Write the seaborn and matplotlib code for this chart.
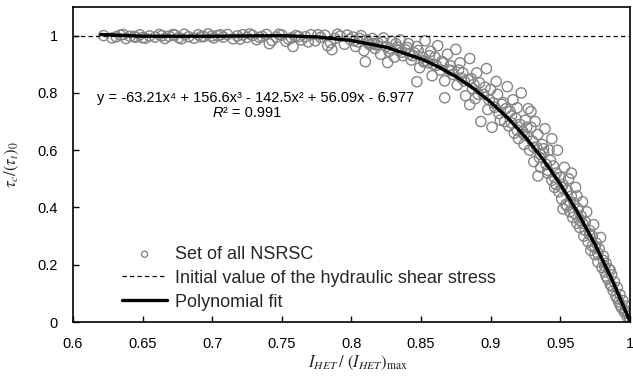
import matplotlib
matplotlib.use("Agg")
import matplotlib.pyplot as plt
import seaborn as sns
import pandas as pd
import numpy as np
from matplotlib.ticker import FuncFormatter

# ---- scatter: set of all NSRSC ----
x_flat = [0.622, 0.628, 0.631, 0.634, 0.638, 0.641, 0.645, 0.648, 0.652, 0.655,
          0.659, 0.662, 0.666, 0.669, 0.673, 0.676, 0.680, 0.683, 0.687, 0.690,
          0.694, 0.697, 0.701, 0.704, 0.708, 0.711, 0.715, 0.718, 0.722, 0.725,
          0.729, 0.732, 0.736, 0.739, 0.743, 0.746, 0.750, 0.753, 0.757, 0.760,
          0.764, 0.767, 0.771, 0.774, 0.778, 0.781, 0.785, 0.788, 0.792, 0.795,
          0.799, 0.636, 0.650, 0.664, 0.678, 0.692, 0.706, 0.720, 0.734, 0.748,
          0.762, 0.776, 0.790, 0.644, 0.672, 0.700, 0.727, 0.755, 0.783, 0.741,
          0.758, 0.769, 0.786, 0.797]
y_flat = [1.000, 0.992, 0.996, 1.002, 0.990, 0.998, 0.994, 1.003, 0.991, 0.999,
          0.995, 1.004, 0.990, 0.998, 1.002, 0.993, 1.005, 0.996, 0.991, 1.003,
          0.997, 1.006, 0.992, 1.000, 0.995, 1.004, 0.989, 0.999, 1.003, 0.994,
          1.001, 0.986, 0.997, 1.004, 0.983, 0.995, 1.002, 0.980, 0.992, 1.000,
          0.985, 0.996, 1.003, 0.982, 0.994, 1.001, 0.975, 0.990, 0.998, 0.970,
          0.987, 1.004, 0.993, 1.000, 0.989, 0.996, 1.003, 0.988, 0.994, 1.005,
          0.997, 1.003, 1.005, 0.997, 1.004, 0.999, 1.006, 0.988, 0.965, 0.972,
          0.962, 0.978, 0.951, 1.002]

x_mid = [0.801, 0.803, 0.805, 0.807, 0.809, 0.811, 0.813, 0.815, 0.817, 0.819,
         0.821, 0.823, 0.825, 0.827, 0.829, 0.831, 0.833, 0.835, 0.837, 0.839,
         0.841, 0.843, 0.845, 0.847, 0.849, 0.851, 0.853, 0.855, 0.857, 0.858,
         0.860, 0.862, 0.864, 0.865, 0.867, 0.869, 0.871, 0.873, 0.875, 0.876,
         0.878, 0.880, 0.882, 0.884, 0.885, 0.887, 0.889, 0.890, 0.892, 0.893,
         0.895, 0.897, 0.898, 0.900, 0.901, 0.902, 0.904, 0.847, 0.867, 0.826,
         0.810, 0.885, 0.816, 0.834, 0.852, 0.870, 0.888, 0.842, 0.859, 0.879,
         0.802, 0.806, 0.812, 0.818, 0.822, 0.828, 0.832, 0.836, 0.840, 0.844,
         0.848, 0.852, 0.856, 0.861, 0.866, 0.872, 0.877, 0.881, 0.886, 0.891,
         0.896, 0.899]
y_mid = [0.995, 0.962, 0.978, 1.000, 0.948, 0.985, 0.968, 0.990, 0.955, 0.975,
         0.935, 0.992, 0.962, 0.945, 0.980, 0.925, 0.960, 0.985, 0.930, 0.950,
         0.972, 0.915, 0.940, 0.962, 0.888, 0.925, 0.982, 0.905, 0.945, 0.860,
         0.925, 0.965, 0.880, 0.910, 0.842, 0.935, 0.895, 0.865, 0.952, 0.828,
         0.905, 0.870, 0.790, 0.845, 0.920, 0.815, 0.780, 0.870, 0.835, 0.700,
         0.795, 0.885, 0.742, 0.812, 0.680, 0.765, 0.840, 0.839, 0.783, 0.906,
         0.909, 0.759, 0.972, 0.948, 0.912, 0.880, 0.830, 0.935, 0.900, 0.852,
         0.982, 0.990, 0.975, 0.968, 0.978, 0.955, 0.972, 0.942, 0.958, 0.930,
         0.948, 0.908, 0.930, 0.896, 0.905, 0.878, 0.880, 0.842, 0.850, 0.795,
         0.820, 0.775]

x_steep = [0.905, 0.906, 0.908, 0.909, 0.910, 0.911, 0.912, 0.913, 0.914, 0.916,
           0.917, 0.918, 0.919, 0.920, 0.921, 0.922, 0.923, 0.924, 0.925, 0.926,
           0.927, 0.928, 0.929, 0.930, 0.931, 0.932, 0.933, 0.934, 0.935, 0.936,
           0.937, 0.938, 0.939, 0.940, 0.941, 0.942, 0.943, 0.944, 0.945, 0.946,
           0.947, 0.948, 0.949, 0.950, 0.951, 0.952, 0.953, 0.954, 0.955, 0.956,
           0.957, 0.958, 0.959, 0.960, 0.961, 0.962, 0.963, 0.964, 0.965, 0.966,
           0.967, 0.968, 0.969, 0.970, 0.971, 0.972, 0.973, 0.974, 0.975, 0.976,
           0.977, 0.978, 0.979, 0.980, 0.981, 0.982, 0.983, 0.984, 0.985, 0.986,
           0.987, 0.988, 0.989, 0.990, 0.991, 0.992, 0.993, 0.994, 0.995, 0.996,
           0.997, 0.998, 0.999, 1.000, 1.000, 0.958, 0.944, 0.929, 0.934, 0.952,
           0.915, 0.926, 0.938, 0.947, 0.957, 0.966, 0.975, 0.983, 0.991, 0.981,
           0.986, 0.971, 0.962, 0.903, 0.907, 0.915, 0.919, 0.924, 0.931, 0.936,
           0.941, 0.946, 0.951, 0.955, 0.960, 0.964, 0.968, 0.973, 0.977, 0.982,
           0.987, 0.993, 0.997]
y_steep = [0.795, 0.728, 0.760, 0.766, 0.700, 0.745, 0.822, 0.685, 0.735, 0.776,
           0.660, 0.712, 0.748, 0.640, 0.690, 0.800, 0.665, 0.620, 0.705, 0.650,
           0.745, 0.600, 0.680, 0.632, 0.560, 0.700, 0.610, 0.655, 0.575, 0.540,
           0.620, 0.590, 0.675, 0.550, 0.520, 0.600, 0.565, 0.495, 0.545, 0.470,
           0.520, 0.600, 0.455, 0.505, 0.430, 0.480, 0.540, 0.410, 0.460, 0.500,
           0.385, 0.440, 0.365, 0.415, 0.470, 0.345, 0.395, 0.330, 0.370, 0.420,
           0.300, 0.350, 0.385, 0.280, 0.320, 0.250, 0.300, 0.340, 0.235, 0.275,
           0.210, 0.255, 0.295, 0.190, 0.230, 0.175, 0.205, 0.150, 0.185, 0.130,
           0.165, 0.110, 0.140, 0.090, 0.120, 0.070, 0.095, 0.050, 0.075, 0.035,
           0.055, 0.020, 0.030, 0.005, 0.012, 0.520, 0.640, 0.735, 0.510, 0.395,
           0.720, 0.680, 0.605, 0.480, 0.420, 0.345, 0.262, 0.160, 0.082, 0.215,
           0.180, 0.305, 0.440, 0.750, 0.705, 0.695, 0.670, 0.655, 0.610, 0.585,
           0.530, 0.505, 0.470, 0.405, 0.380, 0.355, 0.320, 0.265, 0.240, 0.195,
           0.125, 0.060, 0.040]

# ---- polynomial fit, points ----
fit_x = [0.62, 0.65, 0.70, 0.75, 0.775, 0.80, 0.825, 0.85, 0.8625, 0.875,
         0.8875, 0.90, 0.9125, 0.925, 0.9375, 0.95, 0.9625, 0.975, 0.9875, 1.0]
fit_y = [1.004, 0.998, 0.998, 1.000, 0.9955, 0.983, 0.9595, 0.919, 0.891, 0.857,
         0.8166, 0.768, 0.7115, 0.646, 0.569, 0.482, 0.383, 0.271, 0.1445, 0.003]

initial_value = 1.0

xticks = [0.6, 0.65, 0.7, 0.75, 0.8, 0.85, 0.9, 0.95, 1.0]
yticks = [0, 0.2, 0.4, 0.6, 0.8, 1.0]

pts = pd.DataFrame({"x": x_flat + x_mid + x_steep,
                    "y": y_flat + y_mid + y_steep})
fit = pd.DataFrame({"x": fit_x, "y": fit_y})

sns.set_theme(style="white")
plt.rcParams["font.family"] = ["Liberation Sans", "DejaVu Sans"]
plt.rcParams["mathtext.fontset"] = "stix"

fig = plt.figure(figsize=(6.33, 3.85), dpi=100)
ax = fig.add_axes([0.1153, 0.1636, 0.8797, 0.8182])

sns.scatterplot(data=pts, x="x", y="y", ax=ax, marker="o", s=54,
                facecolors="none", edgecolor="#858585", linewidth=1.0,
                label="Set of all NSRSC", zorder=2)
ax.axhline(initial_value, color="black", linestyle=(0, (3.5, 2.5)), linewidth=0.9,
           label="Initial value of the hydraulic shear stress", zorder=3)
sns.lineplot(data=fit, x="x", y="y", ax=ax, color="black", linewidth=2.4,
             estimator=None, label="Polynomial fit", zorder=4)

ax.set_xlim(0.6, 1.0)
ax.set_ylim(0, 1.1)
ax.set_xticks(xticks)
ax.set_yticks(yticks)
fmt = FuncFormatter(lambda v, p: "%g" % round(v, 3))
ax.xaxis.set_major_formatter(fmt)
ax.yaxis.set_major_formatter(fmt)
ax.tick_params(axis="x", direction="in", length=4, width=1, labelsize=10.5,
               pad=11, colors="black", bottom=True)
ax.tick_params(axis="y", direction="in", length=4, width=1, labelsize=10.5,
               pad=11, colors="black", left=True)
for sp in ax.spines.values():
    sp.set_color("black")
    sp.set_linewidth(1.2)

ax.set_xlabel(r"$I_{HET}\,/\ (I_{HET})_{\mathrm{max}}$", fontsize=12)
ax.set_ylabel(r"$\tau_c/(\tau_t)_0$", fontsize=12)
ax.xaxis.set_label_coords(0.512, -0.1)
ax.yaxis.set_label_coords(-0.094, 0.5)

ax.text(0.7314, 0.781, "y = -63.21x\u2074 + 156.6x\u00b3 - 142.5x\u00b2 + 56.09x - 6.977",
        ha="center", va="center", fontsize=10.5, color="black")
ax.text(0.7077, 0.729, "R", ha="right", va="center", fontsize=10.5,
        fontstyle="italic", color="black")
ax.text(0.7077, 0.729, "\u00b2 = 0.991", ha="left", va="center", fontsize=10.5,
        color="black")

handles, labels = ax.get_legend_handles_labels()
order = [labels.index(l) for l in ["Set of all NSRSC",
                                   "Initial value of the hydraulic shear stress",
                                   "Polynomial fit"]]
ax.legend([handles[i] for i in order], [labels[i] for i in order],
          loc="lower left", bbox_to_anchor=(0.088, 0.036), frameon=False,
          borderpad=0, borderaxespad=0, fontsize=13, handlelength=2.5,
          handletextpad=0.45, labelspacing=0.38, scatterpoints=1,
          markerscale=0.6)

fig.savefig("out.png", dpi=100)
